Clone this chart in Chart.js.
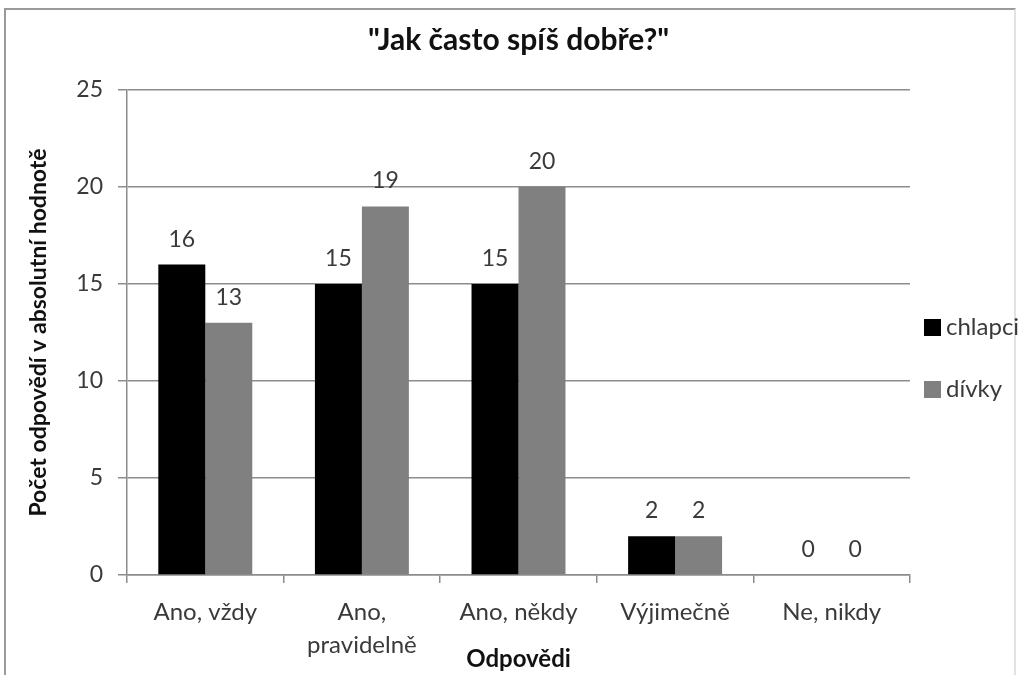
<!DOCTYPE html>
<html>
<head>
<meta charset="utf-8">
<script src="https://cdn.jsdelivr.net/npm/chart.js@4.4.0/dist/chart.umd.min.js"></script>
<style>
  html, body { margin: 0; padding: 0; background: #fff; overflow: hidden; }
  .frame { position: absolute; left: 4px; top: 8px; width: 1008px; height: 700px;
           border: 2px solid #9a9a9a; border-right-color: #e2e2e2; }
  .wrap { position: absolute; left: 0; top: 0; width: 1022px; height: 675px; }
</style>
</head>
<body>
<div class="frame"></div>
<div class="wrap"><canvas id="sleepChart"></canvas></div>
<script>
const categories = ['Ano, vždy', ['Ano,', 'pravidelně'], 'Ano, někdy', 'Výjimečně', 'Ne, nikdy'];
const boys = [16, 15, 15, 2, 0];
const girls = [13, 19, 20, 2, 0];
const yTicks = [0, 5, 10, 15, 20, 25];
const chartTitle = '"Jak často spíš dobře?"';

const FONT = 'Lato, "Open Sans", sans-serif';
const TEXT = '#3a3a3a';

// title centred over the plot area
const plotTitle = {
  id: 'plotTitle',
  afterDraw(chart) {
    const ctx = chart.ctx;
    const area = chart.chartArea;
    ctx.save();
    ctx.font = 'bold 30px ' + FONT;
    ctx.fillStyle = '#111';
    ctx.textAlign = 'center';
    ctx.textBaseline = 'middle';
    ctx.fillText(chartTitle, (area.left + area.right) / 2, 40);
    ctx.restore();
  }
};

// values above the bars
const valueLabels = {
  id: 'valueLabels',
  afterDatasetsDraw(chart) {
    const ctx = chart.ctx;
    ctx.save();
    ctx.font = '23px ' + FONT;
    ctx.fillStyle = TEXT;
    ctx.textAlign = 'center';
    ctx.textBaseline = 'alphabetic';
    chart.data.datasets.forEach((ds, i) => {
      chart.getDatasetMeta(i).data.forEach((bar, j) => {
        ctx.fillText(ds.data[j], bar.x, bar.y - 18);
      });
    });
    ctx.restore();
  }
};

// legend on the right, Excel style
const sideLegend = {
  id: 'sideLegend',
  afterDraw(chart) {
    const ctx = chart.ctx;
    ctx.save();
    ctx.font = '24px ' + FONT;
    ctx.textBaseline = 'middle';
    chart.data.datasets.forEach((ds, i) => {
      const y = 327 + i * 62;
      ctx.fillStyle = ds.backgroundColor;
      ctx.fillRect(924, y - 8, 17, 17);
      ctx.fillStyle = TEXT;
      ctx.fillText(ds.label, 946, y);
    });
    ctx.restore();
  }
};

new Chart(document.getElementById('sleepChart'), {
  type: 'bar',
  data: {
    labels: categories,
    datasets: [
      { label: 'chlapci', data: boys, backgroundColor: '#000000' },
      { label: 'dívky', data: girls, backgroundColor: '#808080' }
    ]
  },
  options: {
    responsive: true,
    maintainAspectRatio: false,
    animation: false,
    events: [],
    datasets: { bar: { categoryPercentage: 0.6, barPercentage: 1.0 } },
    layout: { padding: { left: 0, right: 112, top: 90, bottom: 0 } },
    scales: {
      y: {
        min: 0,
        max: 25,
        afterBuildTicks(scale) { scale.ticks = yTicks.map(v => ({ value: v })); },
        afterFit(scale) { scale.width = 127; },
        border: { color: '#8c8c8c', width: 1.5 },
        grid: { color: '#8c8c8c', lineWidth: 1.5, tickLength: 9 },
        ticks: { color: TEXT, font: { family: FONT, size: 23 }, padding: 15 },
        title: {
          display: true,
          text: 'Počet odpovědí v absolutní hodnotě',
          color: '#111',
          font: { family: FONT, size: 23, weight: 'bold' },
          padding: { top: 25, bottom: 0 }
        }
      },
      x: {
        afterFit(scale) { scale.height = 100; },
        border: { color: '#8c8c8c', width: 1.5 },
        grid: { drawOnChartArea: false, color: '#8c8c8c', lineWidth: 1.5, tickLength: 8, offset: true },
        ticks: { color: TEXT, font: { family: FONT, size: 24, lineHeight: 1.4 }, padding: 12, maxRotation: 0 },
        title: {
          display: true,
          text: 'Odpovědi',
          color: '#111',
          font: { family: FONT, size: 24, weight: 'bold' },
          padding: { top: 0, bottom: 1 }
        }
      }
    },
    plugins: {
      legend: { display: false },
      tooltip: { enabled: false },
      title: { display: false }
    }
  },
  plugins: [valueLabels, sideLegend, plotTitle]
});
</script>
</body>
</html>
